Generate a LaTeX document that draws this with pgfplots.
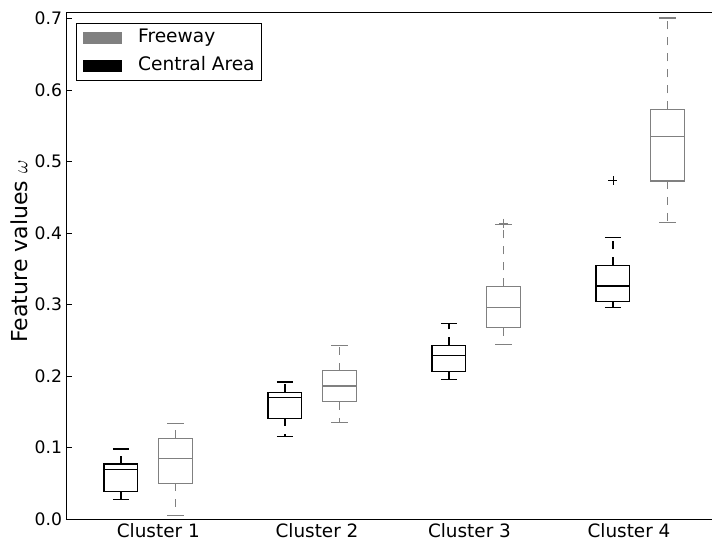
\documentclass[border=0pt]{standalone}
\usepackage{pgfplots}
\pgfplotsset{compat=1.18}
\usepgfplotslibrary{statistics}
\usepackage{fontspec}
\setmainfont{DejaVu Sans}
\definecolor{fgray}{RGB}{128,128,128}
\pgfplotsset{
  mybox/.style={
    boxplot/draw direction=y,
    boxplot/box extend=0.62,
    boxplot/whisker extend=0.3,
    line width=1.15pt,
    mark=+, mark size=4.5pt, mark options={solid, line width=0.9pt},
    boxplot/draw/whisker/.code 2 args={%
      \draw[dash pattern=on 8pt off 8pt] (boxplot cs:##1) -- (boxplot cs:##2);
      \draw[solid] (boxplot whisker cs:##2,0) -- (boxplot whisker cs:##2,1);
    },
  },
}
\begin{document}
\begin{tikzpicture}
\begin{axis}[
  scale only axis,
  width=656pt, height=506pt,
  xmin=0, xmax=12,
  ymin=0, ymax=0.708,
  axis line style={line width=1pt, black},
  xtick={1.683,4.586,7.375,10.293},
  xticklabels={Cluster 1,Cluster 2,Cluster 3,Cluster 4},
  xtick style={draw=none},
  xticklabel style={font=\fontsize{18.4}{22}\selectfont, yshift=-1pt},
  ytick={0,0.1,0.2,0.3,0.4,0.5,0.6,0.7},
  ytick pos=left,
  ytick style={line width=0.8pt, black},
  major tick length=6pt,
  yticklabel style={font=\fontsize{17.2}{20}\selectfont, inner xsep=0pt, xshift=-4pt,
    /pgf/number format/.cd, fixed, fixed zerofill, precision=1, assume math mode=true},
  ylabel={Feature values $\omega$},
  every axis y label/.style={at={(rel axis cs:0,0.5287)}, xshift=-47.2pt, rotate=90, anchor=center, font=\fontsize{22}{26}\selectfont},
  legend style={at={(0,1)}, anchor=north west, xshift=9.4pt, yshift=-9.7pt, draw=black, line width=1pt,
    font=\fontsize{18.6}{22}\selectfont, inner xsep=7pt, inner ysep=5.5pt, row sep=9.5pt,
    nodes={inner xsep=0pt, inner ysep=0pt, text height=14pt, text depth=4.6pt}},
  legend cell align=left,
]
\addlegendimage{legend image code/.code={\fill[fgray] (0pt,-5.5pt) rectangle (38pt,5.5pt); \path (54pt,0pt);}}
\addlegendentry{Freeway}
\addlegendimage{legend image code/.code={\fill[black] (0pt,-5.5pt) rectangle (38pt,5.5pt); \path (54pt,0pt);}}
\addlegendentry{Central Area}

% Central Area (black)
\addplot[mybox, color=black, forget plot, boxplot prepared={draw position=1,
  lower whisker=0.0275, lower quartile=0.039, median=0.0695, upper quartile=0.077, upper whisker=0.098}] coordinates {};
\addplot[mybox, color=black, forget plot, boxplot prepared={draw position=4,
  lower whisker=0.116, lower quartile=0.141, median=0.170, upper quartile=0.177, upper whisker=0.1916}] coordinates {};
\addplot[mybox, color=black, forget plot, boxplot prepared={draw position=7,
  lower whisker=0.195, lower quartile=0.206, median=0.229, upper quartile=0.243, upper whisker=0.274}] coordinates {};
\addplot[mybox, color=black, forget plot, boxplot prepared={draw position=10,
  lower whisker=0.296, lower quartile=0.304, median=0.326, upper quartile=0.355, upper whisker=0.394}]
  table[row sep=\\, y index=0] {data\\ 0.473\\};

% Freeway (gray)
\addplot[mybox, color=fgray, forget plot, boxplot prepared={draw position=2,
  lower whisker=0.0046, lower quartile=0.050, median=0.085, upper quartile=0.113, upper whisker=0.134}] coordinates {};
\addplot[mybox, color=fgray, forget plot, boxplot prepared={draw position=5,
  lower whisker=0.1347, lower quartile=0.164, median=0.186, upper quartile=0.2075, upper whisker=0.243}] coordinates {};
\addplot[mybox, color=fgray, forget plot, boxplot prepared={draw position=8,
  lower whisker=0.244, lower quartile=0.2675, median=0.2955, upper quartile=0.3254, upper whisker=0.412}]
  table[row sep=\\, y index=0] {data\\ 0.414\\};
\addplot[mybox, color=fgray, forget plot, boxplot prepared={draw position=11,
  lower whisker=0.415, lower quartile=0.473, median=0.535, upper quartile=0.573, upper whisker=0.701}] coordinates {};

\coordinate (sw) at (rel axis cs:0,0);
\coordinate (nw) at (rel axis cs:0,1);
\end{axis}
\pgfresetboundingbox
\path[use as bounding box] ([shift={(-66.3pt,-27pt)}]sw) rectangle ([shift={(645.7pt,13pt)}]nw);
\end{tikzpicture}
\end{document}
